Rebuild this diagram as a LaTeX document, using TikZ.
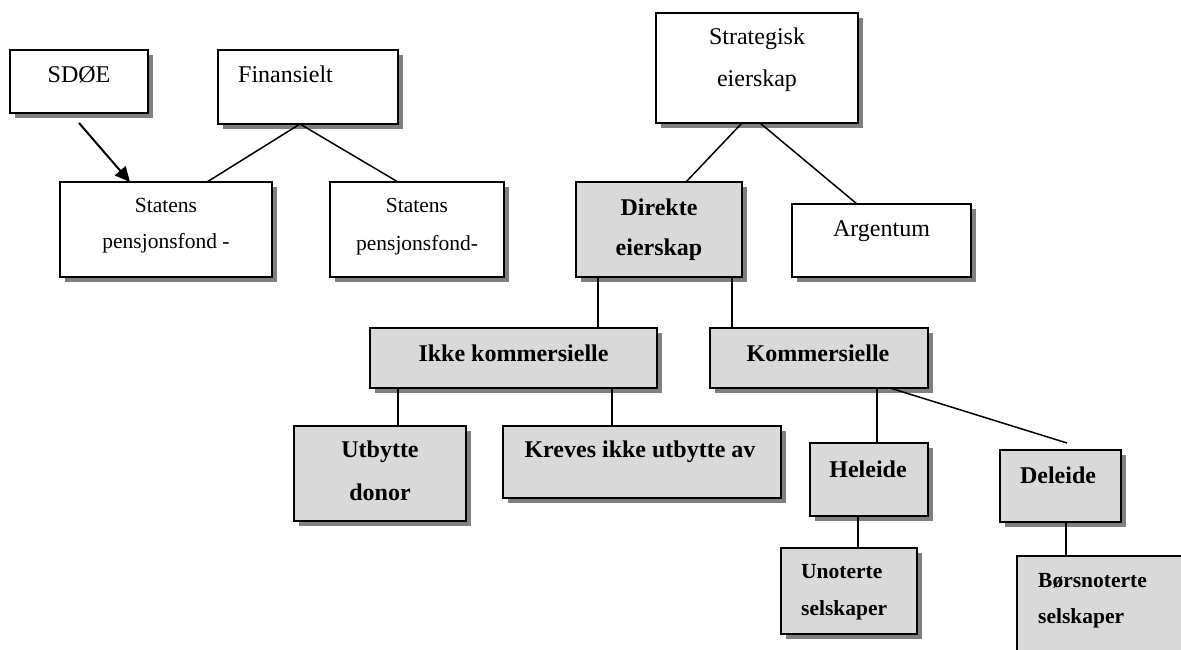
\documentclass[tikz,border=0pt]{standalone}
\usepackage{fontspec}
\setmainfont{Liberation Serif}
\usetikzlibrary{calc,shadows,arrows.meta}

\tikzset{
  box/.style={draw, line width=2pt, inner sep=0pt, outer sep=0pt,
    drop shadow={shadow xshift=5pt, shadow yshift=-5pt, fill=black!50, opacity=1}},
  whitebox/.style={box, fill=white},
  graybox/.style={box, fill=black!15},
  link/.style={line width=1.5pt},
  txt/.style={inner sep=0pt, anchor=base, align=center, font=\fontsize{24}{#1}\selectfont},
  txt/.default=40,
  smalltxt/.style={inner sep=0pt, anchor=base, align=center, font=\fontsize{21.5}{#1}\selectfont},
  smalltxt/.default=37,
  bftxt/.style={inner sep=0pt, anchor=base, align=center, font=\fontsize{24}{#1}\selectfont\bfseries},
  bftxt/.default=40,
  smallbftxt/.style={inner sep=0pt, anchor=base west, align=left, font=\fontsize{21.5}{#1}\selectfont\bfseries},
  smallbftxt/.default=37,
}

\begin{document}
\begin{tikzpicture}[x=1pt, y=-1pt]
  \clip (0,0) rectangle (1181,650);
  % financial side
  \node[whitebox, minimum width=138, minimum height=63] (sdoe) at (79,81.5) {};
  \node[txt] (sdoe-t) at (79,83) {SDØE};
  \node[whitebox, minimum width=180, minimum height=74] (finans) at (308,87) {};
  \node[txt, anchor=base west] (finans-t) at (238,83) {Finansielt};
  \node[whitebox, minimum width=212, minimum height=95] (spf1) at (166,229.5) {};
  \node[smalltxt=36] (spf1-t) at (166,248) {Statens\\pensjonsfond -};
  \node[whitebox, minimum width=174, minimum height=95] (spf2) at (417,229.5) {};
  \node[smalltxt=38] (spf2-t) at (417,250) {Statens\\pensjonsfond-};
  % strategic side
  \node[whitebox, minimum width=202, minimum height=110] (strat) at (757,68) {};
  \node[txt=42] (strat-t) at (757,87) {Strategisk\\eierskap};
  \node[graybox, minimum width=166, minimum height=95] (direkte) at (659,229.5) {};
  \node[bftxt=40] (direkte-t) at (659,255) {Direkte\\eierskap};
  \node[whitebox, minimum width=179, minimum height=73] (argentum) at (881.5,240.5) {};
  \node[txt] (argentum-t) at (881.5,236) {Argentum};
  \node[graybox, minimum width=287, minimum height=60] (ikke) at (513.5,358) {};
  \node[bftxt] (ikke-t) at (513.5,361) {Ikke kommersielle};
  \node[graybox, minimum width=218, minimum height=60] (kommers) at (819,358) {};
  \node[bftxt] (kommers-t) at (818,361) {Kommersielle};
  \node[graybox, minimum width=172, minimum height=95] (utbytte) at (380,473.5) {};
  \node[bftxt=43] (utbytte-t) at (380,500) {Utbytte\\donor};
  \node[graybox, minimum width=278, minimum height=72] (kreves) at (642,462) {};
  \node[bftxt] (kreves-t) at (640,457) {Kreves ikke utbytte av};
  \node[graybox, minimum width=118, minimum height=73] (heleide) at (869,479.5) {};
  \node[bftxt] (heleide-t) at (868,477) {Heleide};
  \node[graybox, minimum width=121, minimum height=72] (deleide) at (1060.5,486) {};
  \node[bftxt] (deleide-t) at (1058,483) {Deleide};
  \node[graybox, minimum width=136, minimum height=86] (unoterte) at (849,591) {};
  \node[smallbftxt] (unoterte-t) at (801,615) {Unoterte\\selskaper};
  \node[graybox, minimum width=183, minimum height=134] (bors) at (1108.5,623) {};
  \node[smallbftxt=36] (bors-t) at (1038,623) {Børsnoterte\\selskaper};
  \coordinate (dl-end) at (1067,443);

  % connectors
  \draw[line width=2pt, -{Triangle[length=15pt,width=14pt]}]
    ([yshift=-10]sdoe.south) -- ([xshift=-36]spf1.north);
  \draw[link] ([xshift=-8]finans.south) -- ([xshift=41]spf1.north);
  \draw[link] ([xshift=-8]finans.south) -- ([xshift=-19]spf2.north);
  \draw[link] ([xshift=-15]strat.south) -- ([xshift=27]direkte.north);
  \draw[link] ([xshift=3]strat.south) -- ([xshift=-24.5]argentum.north);
  \draw[link] ([xshift=-61]direkte.south) -- ([xshift=-61]direkte.south |- ikke.north);
  \draw[link] ([xshift=73]direkte.south) -- ([xshift=73]direkte.south |- kommers.north);
  \draw[link] ([xshift=-115.5]ikke.south) -- ([xshift=-115.5]ikke.south |- utbytte.north);
  \draw[link] ([xshift=98.5]ikke.south) -- ([xshift=98.5]ikke.south |- kreves.north);
  \draw[link] ([xshift=58]kommers.south) -- ([xshift=58]kommers.south |- heleide.north);
  \draw[link] ([xshift=71]kommers.south) -- (dl-end);
  \draw[link] ([xshift=-11]heleide.south) -- ([xshift=-11]heleide.south |- unoterte.north);
  \draw[link] ([xshift=5.5]deleide.south) -- ([xshift=5.5]deleide.south |- bors.north);
\end{tikzpicture}
\end{document}
